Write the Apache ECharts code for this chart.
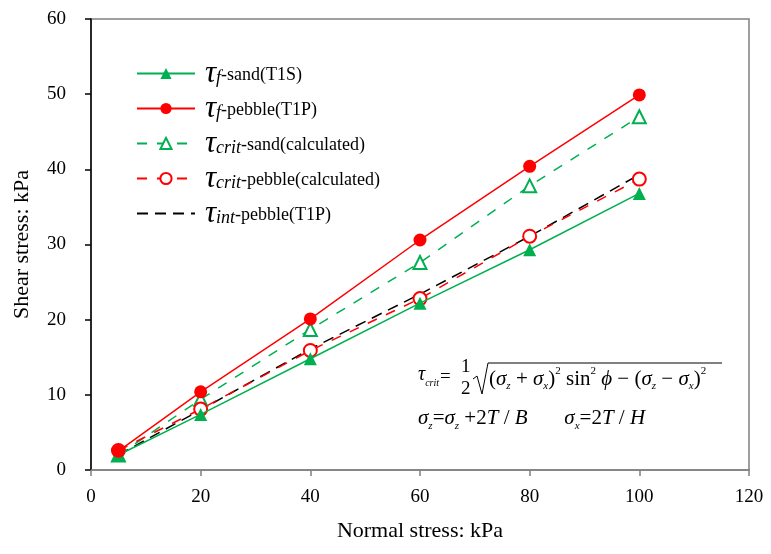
<!DOCTYPE html>
<html><head><meta charset="utf-8">
<script src="https://cdn.jsdelivr.net/npm/echarts@6/dist/echarts.min.js"></script>
<style>html,body{margin:0;padding:0;background:#fff}#c{width:771px;height:554px}</style>
</head><body><div id="c"></div>
<script>
const xValues = [5, 20, 40, 60, 80, 100];
const tfSand = [2.0, 7.4, 14.8, 22.2, 29.3, 36.8];
const tfPebble = [2.5, 10.4, 20.1, 30.6, 40.4, 49.9];
const tcritSand = [2.0, 9.4, 18.7, 27.6, 37.8, 47.0];
const tcritPebble = [2.6, 8.1, 15.9, 22.8, 31.1, 38.7];
const tintPebble = [2.0, 8.0, 16.1, 23.4, 31.1, 39.3];
const xTicks = [0, 20, 40, 60, 80, 100, 120];
const yTicks = [0, 10, 20, 30, 40, 50, 60];

const legendParts = {
  'τf-sand(T1S)': ['f', '-sand(T1S)'],
  'τf-pebble(T1P)': ['f', '-pebble(T1P)'],
  'τcrit-sand(calculated)': ['crit', '-sand(calculated)'],
  'τcrit-pebble(calculated)': ['crit', '-pebble(calculated)'],
  'τint-pebble(T1P)': ['int', '-pebble(T1P)']
};
const GREEN = '#00B050', RED = '#FF0000';
const pair = v => xValues.map((x, i) => [x, v[i]]);
const serif = 'Liberation Serif';

const legendData = Object.keys(legendParts).map(n =>
  n === 'τint-pebble(T1P)' ? { name: n, itemStyle: { opacity: 0 } } : { name: n });

const mathRich = {
  n: { fontFamily: serif, fontSize: 21, lineHeight: 26, verticalAlign: 'middle' },
  i: { fontFamily: serif, fontSize: 21, fontStyle: 'italic', lineHeight: 26, verticalAlign: 'middle' },
  sub: { fontFamily: serif, fontSize: 11, fontStyle: 'italic', lineHeight: 26, verticalAlign: 'bottom' },
  sup: { fontFamily: serif, fontSize: 11, lineHeight: 26, verticalAlign: 'top' }
};

const chart = echarts.init(document.getElementById('c'));
chart.setOption({
  animation: false,
  backgroundColor: '#fff',
  grid: { left: 91, right: 22, top: 19, bottom: 84, show: true, borderColor: '#808080', borderWidth: 1.5 },
  xAxis: {
    type: 'value', min: 0, max: 120, interval: 20,
    name: 'Normal stress: kPa', nameLocation: 'middle', nameGap: 50,
    nameTextStyle: { fontFamily: serif, fontSize: 22, color: '#000' },
    axisLine: { show: true, lineStyle: { color: '#808080', width: 1.5 } },
    axisTick: { show: true, inside: false, length: 6, lineStyle: { color: '#808080', width: 1.5 } },
    axisLabel: { fontFamily: serif, fontSize: 19, color: '#000', margin: 18,
      formatter: v => xTicks.includes(v) ? String(v) : '' },
    splitLine: { show: false }
  },
  yAxis: {
    type: 'value', min: 0, max: 60, interval: 10,
    name: 'Shear stress: kPa', nameLocation: 'middle', nameGap: 58,
    nameTextStyle: { fontFamily: serif, fontSize: 22, color: '#000' },
    axisLine: { show: true, lineStyle: { color: '#000', width: 1.5 } },
    axisTick: { show: true, inside: false, length: 6, lineStyle: { color: '#000', width: 1.5 } },
    axisLabel: { fontFamily: serif, fontSize: 19, color: '#000', margin: 25,
      formatter: v => yTicks.includes(v) ? String(v) : '' },
    splitLine: { show: false }
  },
  legend: {
    orient: 'vertical', left: 131, top: 53, itemWidth: 58, itemHeight: 14, itemGap: 4,
    data: legendData,
    formatter: n => '{t|τ}{s|' + legendParts[n][0] + '}{n|' + legendParts[n][1] + '}',
    textStyle: {
      fontFamily: serif, color: '#000', padding: [0, 0, 0, 5],
      rich: {
        t: { fontFamily: serif, fontSize: 31, fontStyle: 'italic', lineHeight: 28, verticalAlign: 'middle', color: '#000' },
        s: { fontFamily: serif, fontSize: 18, fontStyle: 'italic', lineHeight: 28, verticalAlign: 'bottom', color: '#000' },
        n: { fontFamily: serif, fontSize: 18, lineHeight: 28, verticalAlign: 'middle', padding: [4, 0, 0, 0], color: '#000' }
      }
    }
  },
  series: [
    { name: 'τf-sand(T1S)', type: 'line', data: pair(tfSand), symbol: 'triangle', symbolSize: 13,
      lineStyle: { color: GREEN, width: 1.5 }, itemStyle: { color: GREEN }, z: 5 },
    { name: 'τf-pebble(T1P)', type: 'line', data: pair(tfPebble), symbol: 'circle', symbolSize: 13,
      lineStyle: { color: RED, width: 1.5 }, itemStyle: { color: RED }, z: 5 },
    { name: 'τcrit-sand(calculated)', type: 'line', data: pair(tcritSand), symbol: 'emptyTriangle', symbolSize: 13,
      lineStyle: { color: GREEN, width: 1.5, type: [10, 10] }, itemStyle: { color: GREEN, borderWidth: 1 }, z: 4 },
    { name: 'τcrit-pebble(calculated)', type: 'line', data: pair(tcritPebble), symbol: 'emptyCircle', symbolSize: 13,
      lineStyle: { color: RED, width: 1.5, type: [10, 10] }, itemStyle: { color: RED, borderWidth: 1 }, z: 4 },
    { name: 'τint-pebble(T1P)', type: 'line', data: pair(tintPebble), symbol: 'none', showSymbol: false,
      lineStyle: { color: '#000', width: 1.5, type: [11, 7] }, itemStyle: { color: '#000' }, z: 3 }
  ],
  graphic: [
    { type: 'text', left: 418, top: 365, style: {
      text: '{i|τ}{sub|crit}', fontFamily: serif,
      rich: { i: { fontFamily: serif, fontSize: 20, fontStyle: 'italic', lineHeight: 26, verticalAlign: 'middle' },
              sub: { fontFamily: serif, fontSize: 10, fontStyle: 'italic', lineHeight: 26, verticalAlign: 'bottom' } } } },
    { type: 'text', left: 440, top: 368, style: { text: '=', fontFamily: serif, fontSize: 19 } },
    { type: 'text', left: 461, top: 358, style: { text: '1', fontFamily: serif, fontSize: 19 } },
    { type: 'text', left: 461, top: 380, style: { text: '2', fontFamily: serif, fontSize: 19 } },
    { type: 'polyline', shape: { points: [[473, 379], [477, 376], [482, 394], [488, 363], [722, 363]] }, style: { stroke: '#000', lineWidth: 1, fill: null } },
    { type: 'text', left: 489, top: 366, style: {
      text: '{n|(}{i|σ}{sub|z}{n| + }{i|σ}{sub|x}{n|)}{sup|2}{n| sin}{sup|2}{n| }{i|ϕ}{n| − (}{i|σ}{sub|z}{n| − }{i|σ}{sub|x}{n|)}{sup|2}',
      fontFamily: serif, rich: mathRich } },
    { type: 'text', left: 418, top: 408, style: {
      text: '{i|σ}{sub|z}{n|=}{i|σ}{sub|z}{n| +2}{i|T}{n| / }{i|B}{n|       }{i|σ}{sub|x}{n|=2}{i|T}{n| / }{i|H}',
      fontFamily: serif, rich: mathRich } }
  ]
});
</script></body></html>
